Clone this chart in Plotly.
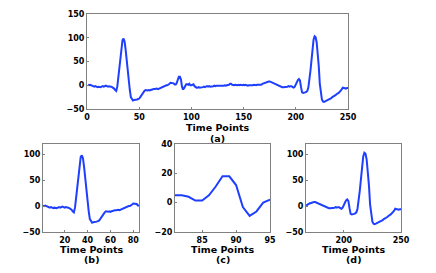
import plotly.graph_objects as go

time_points = list(range(1, 251))
signal = [
    1, 0, 1, 0, -1, -2, -3, -2, -3, -4,
    -3, -4, -4, -3, -2, -3, -2, -1, -2, -3,
    -2, -2, -3, -4, -5, -7, -10, -12, -3, 19,
    42, 64, 82, 95, 98, 92, 75, 51, 28, 9,
    -10, -25, -30, -32, -31, -31, -30, -30, -29, -28,
    -25, -21, -18, -15, -12, -10, -11, -11, -10, -11,
    -10, -9, -9, -8, -8, -7, -7, -8, -7, -6,
    -4, -3, -2, -2, -1, 0, 0, 1, 3, 5,
    5, 5, 4, 1.4, 1.4, 5, 11, 18, 18, 12,
    -3, -9, -6, 0, 2, 2, 1, 3, 0, 0,
    1, 2, -2, -4, -5, -5, -4, -5, -5, -4,
    -4, -3, -4, -3, -2, -3, -2, -3, -3, -2,
    -2, -1, -2, -1, -1, -2, -1, -2, -1, -2,
    -1, 0, -1, 0, 0, 1, 3, 3, 1, 0,
    0, 1, 0, 0, 1, 0, 1, 0, 0, 1,
    0, 1, 0, -1, 0, 0, -1, 0, 0, 1,
    0, 0, 1, 1, 1, 1, 1, 3, 4, 5,
    6, 7, 8, 8, 8, 7, 5, 4, 3, 2,
    2, 1, 0, -1, -2, -3, -4, -4, -4, -4,
    -3, -3, -2, -3, -2, -2, -4, -5, -3, 3,
    6, 11, 13, 10, -4, -15, -16, -16, -15, -14,
    -12, -5, 10, 30, 52, 80, 96, 103, 101, 90,
    70, 40, 3, -18, -30, -34, -35, -34, -33, -32,
    -31, -30, -28, -27, -25, -24, -22, -21, -19, -18,
    -16, -14, -12, -9, -5, -6, -7, -7, -6, -6,
]

panel_labels = ["(a)", "(b)", "(c)", "(d)"]
x_label = "Time Points"

main_xticks = [0, 50, 100, 150, 200, 250]
main_yticks = [-50, 0, 50, 100, 150]
b_xticks = [20, 40, 60, 80]
b_yticks = [-50, 0, 50, 100]
c_xticks = [85, 90, 95]
c_yticks = [-20, 0, 20, 40]
d_xticks = [200, 250]
d_yticks = [-50, 0, 50, 100]

W, H = 436, 273
LINE = "#1f3fff"
FONT = "DejaVu Sans"


def px_x(a, b):
    return [a / W, b / W]


def px_y(top, bottom):
    return [1 - bottom / H, 1 - top / H]


fig = go.Figure()

panels = [
    ("", px_x(87, 348), px_y(14, 109), [0, 250], [-50, 150], main_xticks, main_yticks, (0, 250)),
    ("2", px_x(43, 139), px_y(144, 232), [1, 85], [-50, 120], b_xticks, b_yticks, (0, 85)),
    ("3", px_x(175, 270), px_y(144, 232), [81, 95], [-20, 40], c_xticks, c_yticks, (80, 95)),
    ("4", px_x(306, 401), px_y(144, 232), [167, 250], [-50, 120], d_xticks, d_yticks, (166, 250)),
]

layout = {}
for aid, dx, dy, xr, yr, xt, yt, sl in panels:
    s0, s1 = sl
    fig.add_trace(go.Scatter(
        x=time_points[s0:s1], y=signal[s0:s1], mode="lines",
        line=dict(color=LINE, width=2), xaxis="x" + aid, yaxis="y" + aid,
        showlegend=False,
    ))
    common = dict(showgrid=False, zeroline=False, showline=True, mirror=True,
                  linecolor="#808080", linewidth=1, ticks="inside", ticklen=2,
                  tickcolor="#808080", automargin=False,
                  tickfont=dict(family=FONT, size=8, color="black", weight="bold"))
    layout["xaxis" + aid] = dict(domain=dx, range=xr, tickvals=xt, anchor="y" + aid, **common)
    layout["yaxis" + aid] = dict(domain=dy, range=yr, tickvals=yt, anchor="x" + aid, **common)

fig.update_layout(**layout)

ann = []
label_pos = [
    ((87 + 348) / 2, 127, 138),
    ((43 + 139) / 2, 249, 259.5),
    ((175 + 270) / 2, 249, 259.5),
    ((306 + 401) / 2, 249, 259.5),
]
for (cx, ty, ly), lab in zip(label_pos, panel_labels):
    for txt, yy in ((x_label, ty), (lab, ly)):
        ann.append(dict(x=cx / W, y=1 - yy / H, xref="paper", yref="paper", text=txt,
                        showarrow=False, xanchor="center", yanchor="middle",
                        font=dict(family=FONT, size=9.5, color="black", weight="bold")))

fig.update_layout(
    annotations=ann,
    width=W, height=H,
    margin=dict(l=0, r=0, t=0, b=0, autoexpand=False),
    paper_bgcolor="white", plot_bgcolor="white",
)

fig.write_html("out.html", config={"displayModeBar": False},
               post_script="document.body.style.margin='0';")
